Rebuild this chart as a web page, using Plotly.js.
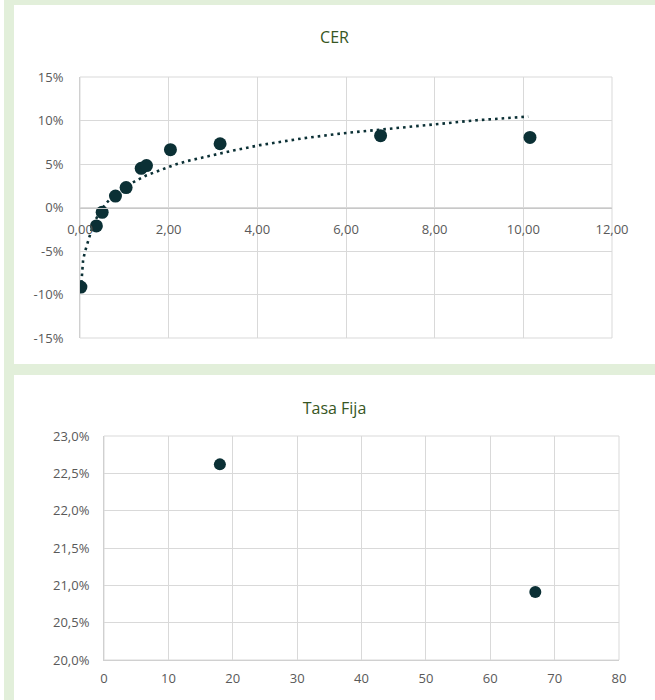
<!DOCTYPE html>
<html>
<head>
<meta charset="utf-8">
<script src="https://cdn.plot.ly/plotly-3.0.1.min.js"></script>
<style>
  html, body { margin: 0; padding: 0; background: #ffffff; }
  #bg { position: absolute; left: 4px; top: 0; width: 651px; height: 700px; background: #e2efda; }
  #cer { position: absolute; left: 14px; top: 5px; width: 641px; height: 359px; background: #fff; }
  #fija { position: absolute; left: 14px; top: 375px; width: 641px; height: 325px; background: #fff; }
</style>
</head>
<body>
<div id="bg"></div>
<div id="cer"></div>
<div id="fija"></div>
<script>
// ---- CER chart data ----
const cerTitle = 'CER';
const cerX = [0.02, 0.37, 0.50, 0.80, 1.04, 1.38, 1.50, 2.04, 3.16, 6.78, 10.15];
const cerY = [-0.0915, -0.0212, -0.0056, 0.0131, 0.0229, 0.0450, 0.0482, 0.0665, 0.0733, 0.0826, 0.0805];
// logarithmic trend line
const cerTrendX = [0.02, 0.04, 0.07, 0.11, 0.15, 0.19, 0.30, 0.45, 0.60, 0.80, 1.00, 1.24, 1.50, 1.82, 2.12, 2.42, 2.73, 3.03, 3.46, 4.06, 5.00, 5.87, 6.65, 7.07, 8.05, 8.95, 9.47, 10.11];
const cerTrendY = [-0.094, -0.0767, -0.0606, -0.0511, -0.0443, -0.0358, -0.0191, -0.0048, 0.0054, 0.0158, 0.0238, 0.0301, 0.0370, 0.0431, 0.0488, 0.0534, 0.0572, 0.0606, 0.0656, 0.0717, 0.0793, 0.0850, 0.0889, 0.0915, 0.0965, 0.1003, 0.1022, 0.1045];
const cerYTicks = [-0.15, -0.10, -0.05, 0, 0.05, 0.10, 0.15];
const cerYTickText = ['-15%', '-10%', '-5%', '0%', '5%', '10%', '15%'];
const cerXTicks = [0, 2, 4, 6, 8, 10, 12];

// ---- Tasa Fija chart data ----
const fijaTitle = 'Tasa Fija';
const fijaX = [18.0, 67.0];
const fijaY = [0.2262, 0.2091];

const FONT = '"Open Sans", "Liberation Sans", sans-serif';
const DARK = '#0b3035';
const GRID = '#d9d9d9';
const TICKC = '#595959';
const TITLEC = '#375623';

const frame = { type: 'rect', xref: 'paper', yref: 'paper', x0: 0, x1: 1, y0: 0, y1: 1, line: { color: GRID, width: 1 }, layer: 'below' };

Plotly.newPlot('cer', [
  {
    x: cerTrendX, y: cerTrendY, type: 'scatter', mode: 'lines',
    line: { color: DARK, width: 2.6, dash: '2.6px,4px' },
    hoverinfo: 'skip'
  },
  {
    x: cerX, y: cerY, type: 'scatter', mode: 'markers',
    marker: { color: DARK, size: 13 }
  }
], {
  width: 641, height: 359,
  margin: { l: 66, r: 43, t: 72, b: 26 },
  paper_bgcolor: '#ffffff', plot_bgcolor: '#ffffff',
  separators: ',.',
  showlegend: false,
  shapes: [frame],
  font: { family: FONT, size: 13, color: TICKC },
  title: { text: cerTitle, font: { family: FONT, size: 16, color: TITLEC }, x: 0.5, xref: 'container', xanchor: 'center', y: 0.911, yref: 'container', yanchor: 'middle' },
  xaxis: {
    range: [0, 12], tickvals: cerXTicks, tickformat: '.2f',
    showgrid: true, gridcolor: GRID, gridwidth: 1, zeroline: false,
    showline: true, linecolor: '#c8c8c8', linewidth: 1,
    anchor: 'free', position: 0.5,
    ticks: 'outside', ticklen: 10, tickcolor: 'rgba(0,0,0,0)',
    tickfont: { family: FONT, size: 13, color: TICKC }
  },
  yaxis: {
    range: [-0.15, 0.15], tickvals: cerYTicks, ticktext: cerYTickText,
    showgrid: true, gridcolor: GRID, gridwidth: 1, zeroline: false,
    showline: true, linecolor: '#d0d0d0', linewidth: 1, mirror: false,
    ticks: 'outside', ticklen: 13, tickcolor: 'rgba(0,0,0,0)',
    tickfont: { family: FONT, size: 13, color: TICKC }
  }
}, { displayModeBar: false, staticPlot: true });

Plotly.newPlot('fija', [
  {
    x: fijaX, y: fijaY, type: 'scatter', mode: 'markers',
    marker: { color: DARK, size: 12 }
  }
], {
  width: 641, height: 325,
  margin: { l: 90, r: 36, t: 61, b: 40 },
  paper_bgcolor: '#ffffff', plot_bgcolor: '#ffffff',
  separators: ',.',
  showlegend: false,
  shapes: [frame],
  font: { family: FONT, size: 13, color: TICKC },
  title: { text: fijaTitle, font: { family: FONT, size: 16, color: TITLEC }, x: 0.5, xref: 'container', xanchor: 'center', y: 0.898, yref: 'container', yanchor: 'middle' },
  xaxis: {
    range: [0, 80], dtick: 10, tick0: 0,
    showgrid: true, gridcolor: GRID, gridwidth: 1, zeroline: false,
    showline: true, linecolor: '#d0d0d0', linewidth: 1,
    ticks: 'outside', ticklen: 6, tickcolor: 'rgba(0,0,0,0)',
    tickfont: { family: FONT, size: 13, color: TICKC }
  },
  yaxis: {
    range: [0.20, 0.23], dtick: 0.005, tick0: 0.20, tickformat: '.1%',
    showgrid: true, gridcolor: GRID, gridwidth: 1, zeroline: false,
    showline: true, linecolor: '#d0d0d0', linewidth: 1,
    ticks: 'outside', ticklen: 11, tickcolor: 'rgba(0,0,0,0)',
    tickfont: { family: FONT, size: 13, color: TICKC }
  }
}, { displayModeBar: false, staticPlot: true });
</script>
</body>
</html>
